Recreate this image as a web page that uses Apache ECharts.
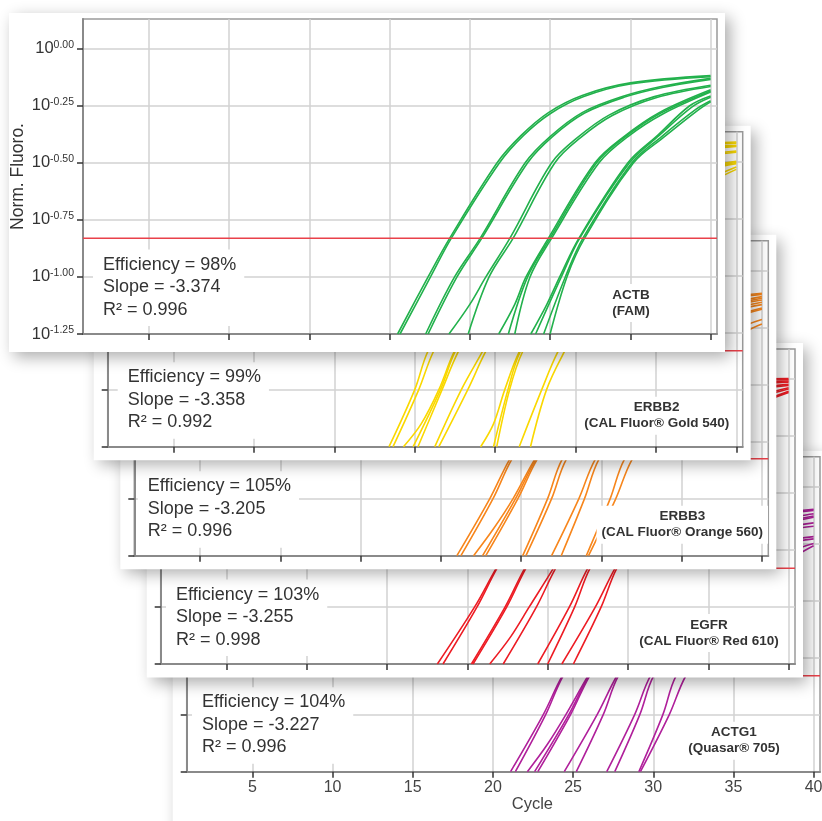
<!DOCTYPE html>
<html>
<head>
<meta charset="utf-8">
<title>Standard curves</title>
<script src="https://cdn.jsdelivr.net/npm/echarts@6/dist/echarts.min.js"></script>
<style>
  html, body { margin: 0; padding: 0; background: #fff; }
  #chart { width: 822px; height: 821px; }
</style>
</head>
<body>
<div id="chart"></div>
<script>
// axes
var cycleTicks = [5, 10, 15, 20, 25, 30, 35, 40];
var fluoroTicks = [-1.25, -1, -0.75, -0.5, -0.25, 0];

// panel texts, top card first
var genes = ['ACTB', 'ERBB2', 'ERBB3', 'EGFR', 'ACTG1'];
var dyes = ['FAM', 'CAL Fluor\u00ae Gold 540', 'CAL Fluor\u00ae Orange 560', 'CAL Fluor\u00ae Red 610', 'Quasar\u00ae 705'];
var efficiency = ['98%', '99%', '105%', '103%', '104%'];
var slopes = ['-3.374', '-3.358', '-3.205', '-3.255', '-3.227'];
var rSquared = ['0.996', '0.992', '0.996', '0.998', '0.996'];
var thresholds = [-0.83, -0.83, -0.825, -0.83, -0.83];
var colors = ['#22b14c', '#fad800', '#f7861c', '#ed1c24', '#b0209b'];

// amplification curves: [cycle, log10 norm. fluoro]
var actbCurves = [
  [[20.5,-1.25],[22.4,-1.0],[23.75,-0.83],[26.7,-0.5],[28.2,-0.38],[29.9,-0.28],[32,-0.205],[35,-0.15],[40,-0.118]],
  [[20.65,-1.25],[22.55,-1.0],[23.85,-0.83],[26.85,-0.5],[28.35,-0.38],[30.05,-0.283],[32.1,-0.21],[35,-0.155],[40,-0.123]],
  [[22.25,-1.25],[24.05,-1.0],[25.65,-0.83],[28.45,-0.5],[30.0,-0.385],[32.0,-0.28],[34.5,-0.21],[37,-0.165],[40,-0.13]],
  [[22.4,-1.25],[24.2,-1.0],[25.75,-0.83],[28.6,-0.5],[30.15,-0.385],[32.15,-0.282],[34.6,-0.213],[37,-0.17],[40,-0.135]],
  [[23.7,-1.25],[25.0,-1.12],[26.0,-1.0],[27.5,-0.83],[30.1,-0.5],[31.7,-0.39],[33.7,-0.29],[36.5,-0.21],[40,-0.16]],
  [[24.9,-1.25],[26.2,-1.0],[27.7,-0.83],[30.3,-0.5],[31.9,-0.39],[33.9,-0.292],[36.6,-0.215],[40,-0.166]],
  [[26.8,-1.25],[27.8,-1.12],[28.5,-1.0],[29.9,-0.83],[32.8,-0.5],[34.6,-0.385],[36.8,-0.28],[40,-0.18]],
  [[27.4,-1.25],[28.6,-1.0],[30.0,-0.83],[32.9,-0.5],[34.7,-0.385],[36.9,-0.282],[40,-0.185]],
  [[27.8,-1.25],[28.75,-1.0],[30.1,-0.83],[33.05,-0.5],[34.85,-0.385],[37.05,-0.285],[40,-0.19]],
  [[28.8,-1.25],[29.8,-1.12],[30.6,-1.0],[31.8,-0.83],[34.85,-0.5],[36.7,-0.38],[38.7,-0.25],[40,-0.207]],
  [[29.1,-1.25],[30.7,-1.0],[31.85,-0.83],[34.95,-0.5],[36.8,-0.38],[38.85,-0.255],[40,-0.213]],
  [[29.6,-1.25],[30.95,-1.0],[32.05,-0.83],[35.1,-0.5],[36.95,-0.385],[39.1,-0.265],[40,-0.228]],
  [[30.0,-1.25],[31.05,-1.0],[32.15,-0.83],[35.2,-0.5],[37.05,-0.39],[39.2,-0.27],[40,-0.233]]
];
var erbb2Curves = [
  [[18.4,-1.25],[20.0,-1.0],[20.8,-0.835],[23.3,-0.5],[26.8,-0.2],[31,0.0],[35,0.06],[40,0.085]],
  [[18.65,-1.25],[20.25,-1.0],[21.15,-0.835],[23.65,-0.5],[27.2,-0.2],[31.4,-0.005],[35.4,0.055],[40,0.08]],
  [[19.3,-1.25],[20.4,-1.15],[21.5,-1.0],[22.45,-0.835],[25,-0.5],[28.5,-0.2],[32.5,-0.01],[36,0.045],[40,0.07]],
  [[19.9,-1.25],[21.6,-1.0],[22.5,-0.835],[25.05,-0.5],[28.6,-0.2],[32.6,-0.01],[36.1,0.043],[40,0.068]],
  [[20.2,-1.25],[21.7,-1.0],[22.7,-0.835],[25.25,-0.5],[28.8,-0.2],[32.8,-0.015],[36.3,0.04],[40,0.065]],
  [[21.25,-1.25],[22.9,-1.0],[24.2,-0.835],[26.8,-0.5],[30.4,-0.2],[34.5,-0.02],[40,0.045]],
  [[21.5,-1.25],[23.3,-1.0],[24.4,-0.835],[27,-0.5],[30.6,-0.2],[34.7,-0.025],[40,0.04]],
  [[24.1,-1.25],[24.9,-1.15],[25.6,-1.0],[26.5,-0.835],[29.1,-0.5],[32.8,-0.2],[36.8,-0.05],[40,0.0]],
  [[24.9,-1.25],[25.8,-1.0],[26.55,-0.835],[29.15,-0.5],[32.9,-0.2],[36.9,-0.055],[40,-0.005]],
  [[25.1,-1.25],[25.9,-1.0],[26.7,-0.835],[29.3,-0.5],[33.1,-0.2],[37,-0.06],[40,-0.01]],
  [[26.5,-1.25],[27.9,-1.0],[28.9,-0.835],[31.5,-0.5],[35.2,-0.2],[40,-0.025]],
  [[27.2,-1.25],[28.2,-1.0],[29.3,-0.835],[31.9,-0.5],[35.6,-0.21],[40,-0.035]]
];
var erbb3Curves = [
  [[21.0,-1.25],[23.05,-1.0],[24.27,-0.83],[27.2,-0.5],[31.3,-0.25],[35,-0.15],[40,-0.1]],
  [[21.25,-1.25],[23.25,-1.0],[24.4,-0.83],[27.35,-0.5],[31.45,-0.25],[35.2,-0.155],[40,-0.105]],
  [[22.04,-1.25],[23.3,-1.13],[24.5,-1.0],[25.83,-0.83],[28.8,-0.5],[32.9,-0.25],[36.3,-0.17],[40,-0.115]],
  [[22.6,-1.25],[24.65,-1.0],[25.9,-0.83],[28.85,-0.5],[33,-0.25],[36.4,-0.175],[40,-0.122]],
  [[22.8,-1.25],[24.8,-1.0],[25.98,-0.83],[28.95,-0.5],[33.1,-0.25],[36.5,-0.18],[40,-0.13]],
  [[25.1,-1.25],[26.65,-1.0],[27.54,-0.83],[30.5,-0.5],[34.6,-0.25],[40,-0.14]],
  [[25.3,-1.25],[26.9,-1.0],[27.8,-0.83],[30.75,-0.5],[34.9,-0.25],[40,-0.15]],
  [[26.9,-1.25],[28.6,-1.0],[29.6,-0.83],[32.6,-0.5],[36.7,-0.25],[40,-0.165]],
  [[27.5,-1.25],[28.95,-1.0],[29.83,-0.83],[32.8,-0.5],[36.9,-0.25],[40,-0.17]],
  [[29.06,-1.25],[30.55,-1.0],[31.42,-0.83],[34.4,-0.5],[38.5,-0.26],[40,-0.215]],
  [[29.2,-1.25],[30.9,-1.0],[31.9,-0.83],[34.9,-0.5],[39.0,-0.27],[40,-0.235]]
];
var egfrCurves = [
  [[18.13,-1.25],[20.45,-1.0],[21.8,-0.83],[24.6,-0.5],[28.3,-0.2],[33,-0.04],[40,0.0]],
  [[18.48,-1.25],[20.6,-1.0],[21.85,-0.83],[24.65,-0.5],[28.4,-0.2],[33.1,-0.045],[40,-0.005]],
  [[20.25,-1.25],[22.35,-1.0],[23.58,-0.83],[26.4,-0.5],[30.1,-0.2],[34.5,-0.055],[40,-0.01]],
  [[20.35,-1.25],[22.45,-1.0],[23.65,-0.83],[26.45,-0.5],[30.2,-0.2],[34.6,-0.06],[40,-0.015]],
  [[21.39,-1.25],[22.7,-1.13],[23.85,-1.0],[25.36,-0.83],[28.2,-0.5],[31.9,-0.2],[36,-0.07],[40,-0.025]],
  [[22.23,-1.25],[24.3,-1.0],[25.5,-0.83],[28.3,-0.5],[32,-0.2],[36.1,-0.075],[40,-0.03]],
  [[24.38,-1.25],[26.35,-1.0],[27.5,-0.83],[30.3,-0.5],[34,-0.2],[37.5,-0.09],[40,-0.04]],
  [[25.0,-1.25],[26.68,-1.0],[27.64,-0.83],[30.45,-0.5],[34.15,-0.2],[37.6,-0.095],[40,-0.045]],
  [[25.88,-1.25],[27.97,-1.0],[29.2,-0.83],[32,-0.5],[35.7,-0.2],[40,-0.055]],
  [[26.6,-1.25],[28.33,-1.0],[29.31,-0.83],[32.1,-0.5],[35.8,-0.2],[40,-0.06]]
];
var actg1Curves = [
  [[21.1,-1.25],[23.14,-1.0],[24.3,-0.834],[27.2,-0.5],[31.3,-0.25],[35,-0.15],[40,-0.1]],
  [[21.4,-1.25],[23.29,-1.0],[24.35,-0.834],[27.25,-0.5],[31.4,-0.25],[35.1,-0.155],[40,-0.105]],
  [[22.15,-1.25],[23.4,-1.13],[24.55,-1.0],[25.9,-0.834],[28.8,-0.5],[32.9,-0.25],[36.4,-0.17],[40,-0.12]],
  [[22.6,-1.25],[24.73,-1.0],[25.95,-0.834],[28.85,-0.5],[33,-0.25],[36.5,-0.18],[40,-0.13]],
  [[22.8,-1.25],[24.84,-1.0],[26.0,-0.834],[28.9,-0.5],[33.05,-0.25],[36.6,-0.185],[40,-0.135]],
  [[24.45,-1.25],[26.5,-1.0],[27.7,-0.834],[30.6,-0.5],[34.8,-0.25],[40,-0.16]],
  [[25.2,-1.25],[26.88,-1.0],[27.8,-0.834],[30.7,-0.5],[35,-0.255],[40,-0.175]],
  [[27.1,-1.25],[28.84,-1.0],[29.8,-0.834],[32.7,-0.5],[37,-0.27],[40,-0.22]],
  [[27.6,-1.25],[29.16,-1.0],[30.0,-0.834],[32.9,-0.5],[37.3,-0.275],[40,-0.23]],
  [[29.1,-1.25],[30.6,-1.0],[31.4,-0.834],[34.3,-0.5],[38.5,-0.29],[40,-0.25]],
  [[29.2,-1.25],[31.0,-1.0],[32.0,-0.834],[34.9,-0.5],[39,-0.3],[40,-0.26]]
];
var panelCurves = [actbCurves, erbb2Curves, erbb3Curves, egfrCurves, actg1Curves];

// layout of the stacked cards (plot boxes, px)
var plotLefts = [83, 107.7, 134.3, 160.7, 186.7];
var plotRights = [717, 742.7, 768.3, 795, 820];
var plotBottoms = [334, 446.7, 555.7, 664, 771.7];
var plotHeight = 315;
var statsOffset = [20, 20, 13.5, 15.3, 15.3];
var fontFamily = '"Liberation Sans", Arial, Helvetica, sans-serif';
var xMin = 0.9, xMax = 40.4;

var buildOption = function () {
    var grids = [], xAxes = [], yAxes = [], series = [], elements = [];

    for (var i = 0; i < 5; i++) {
        var pLeft = plotLefts[i], pRight = plotRights[i];
        var pBottom = plotBottoms[i], pTop = pBottom - plotHeight;
        var z = (5 - i) * 10;   // top card drawn last

        var cardLeft = i === 0 ? 9 : pLeft - 14;
        var cardTop = pTop - 6;
        var cardRight = pRight + 8;
        var cardBottom = i === 0 ? pBottom + 18 : (i === 4 ? 840 : pBottom + 13.5);

        elements.push({
            type: 'rect', z: z, silent: true,
            shape: {x: cardLeft, y: cardTop, width: cardRight - cardLeft, height: cardBottom - cardTop},
            style: {fill: '#fff', shadowBlur: 15, shadowOffsetX: 5, shadowOffsetY: 5, shadowColor: 'rgba(0,0,0,0.33)'}
        });
        elements.push({
            type: 'text', z: z + 6, silent: true,
            x: pLeft + statsOffset[i] - 10, y: pBottom - 84.5,
            style: {
                text: 'Efficiency = ' + efficiency[i] + '\nSlope = ' + slopes[i] + '\nR\u00b2 = ' + rSquared[i],
                fontSize: 18, fontFamily: fontFamily, fill: '#333', lineHeight: 22.5,
                backgroundColor: '#fff', padding: [4, 8, 5, 10], verticalAlign: 'top'
            }
        });
        elements.push({
            type: 'text', z: z + 6, silent: true,
            x: pRight - 86, y: pBottom - 50,
            style: {
                text: genes[i] + '\n(' + dyes[i] + ')',
                fontSize: 13.5, fontWeight: 'bold', fontFamily: fontFamily, fill: '#333', lineHeight: 16,
                align: 'center', verticalAlign: 'top', backgroundColor: '#fff', padding: [3, 5]
            }
        });

        grids.push({
            left: pLeft, top: pTop, width: pRight - pLeft, height: plotHeight,
            show: true, backgroundColor: 'transparent', borderColor: '#9a9a9a', borderWidth: 1.5,
            z: z + 1, containLabel: false, outerBoundsMode: 'none'
        });

        xAxes.push({
            type: 'value', gridIndex: i, min: xMin, max: xMax, z: z + 2,
            axisLine: {show: true, onZero: false, lineStyle: {color: '#8a8a8a', width: 2}},
            axisTick: {show: true, customValues: cycleTicks, length: 6, lineStyle: {color: '#333', width: 1.5}},
            axisLabel: {show: i === 4, customValues: cycleTicks, margin: 8, fontSize: 16, color: '#444', fontFamily: fontFamily},
            splitLine: {show: true, lineStyle: {color: '#d2d2d2', width: 1.5}},
            name: i === 4 ? 'Cycle' : '', nameLocation: 'middle', nameGap: 24, nameMoveOverlap: false,
            nameTextStyle: {fontSize: 16.5, color: '#444', fontFamily: fontFamily, padding: [0, 0, 0, 58]}
        });

        yAxes.push({
            type: 'value', gridIndex: i, min: -1.25, max: 0.13, interval: 0.25, z: z + 2,
            axisLine: {show: true, onZero: false, lineStyle: {color: '#8a8a8a', width: 2}},
            axisTick: {show: true, customValues: fluoroTicks, length: 6, lineStyle: {color: '#333', width: 1.5}},
            axisLabel: {
                show: i === 0, customValues: fluoroTicks, margin: 9,
                formatter: function (v) { return '{b|10}{s|' + v.toFixed(2) + '}'; },
                rich: {
                    b: {fontSize: 16.5, lineHeight: 18, color: '#333', fontFamily: fontFamily},
                    s: {fontSize: 10.5, lineHeight: 11, verticalAlign: 'top', color: '#333', fontFamily: fontFamily}
                }
            },
            splitLine: {show: true, lineStyle: {color: '#d2d2d2', width: 1.5}},
            name: i === 0 ? 'Norm. Fluoro.' : '', nameLocation: 'middle', nameGap: 56, nameMoveOverlap: false,
            nameTextStyle: {fontSize: 17.5, color: '#333', fontFamily: fontFamily}
        });

        panelCurves[i].forEach(function (curve) {
            series.push({
                type: 'line', xAxisIndex: i, yAxisIndex: i, z: z + 3, silent: true,
                data: curve, showSymbol: false, symbol: 'none', smooth: 0.35, clip: true,
                lineStyle: {color: colors[i], width: 1.6}
            });
        });

        // threshold line
        series.push({
            type: 'line', xAxisIndex: i, yAxisIndex: i, z: z + 4, silent: true,
            data: [[xMin, thresholds[i]], [xMax, thresholds[i]]], symbol: 'none',
            lineStyle: {color: '#e9414a', width: 1.5}
        });
    }

    return {
        animation: false,
        backgroundColor: '#fff',
        grid: grids,
        xAxis: xAxes,
        yAxis: yAxes,
        series: series,
        graphic: {elements: elements}
    };
};

var chart = echarts.init(document.getElementById('chart'));
chart.setOption(buildOption());
</script>
</body>
</html>
